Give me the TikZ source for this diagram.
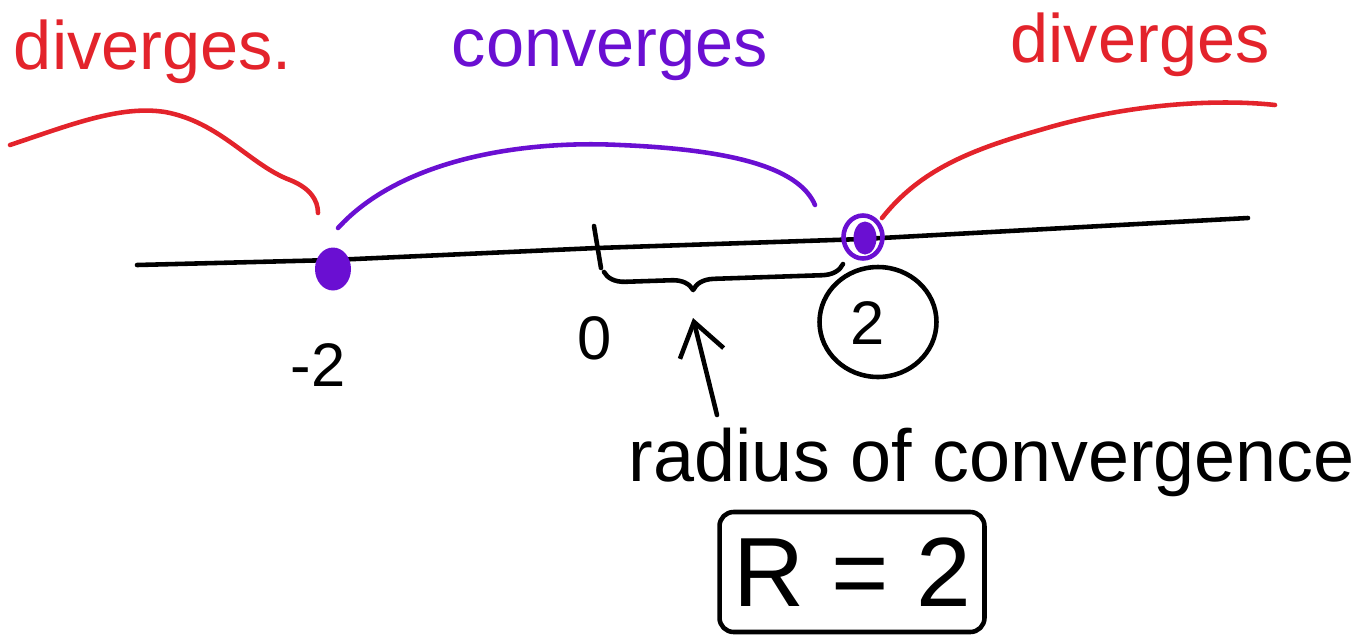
\documentclass[tikz,border=0pt]{standalone}
\usepackage{fontspec}
\setmainfont{Liberation Sans}
\usetikzlibrary{arrows.meta,positioning,decorations.pathreplacing,shapes.geometric}
\definecolor{PenRed}{HTML}{E3232B}
\definecolor{PenPurple}{HTML}{6A0FD2}

\begin{document}
\begin{tikzpicture}[x=0.02cm,y=-0.02cm,
  hand/.style={line width=2.6pt,line cap=round,line join=round},
  word/.style={inner sep=0pt,font=\fontsize{39}{46}\selectfont},
  digit/.style={inner sep=0pt,font=\fontsize{35}{40}\selectfont},
  arr/.style={hand,-{Straight Barb[length=6.5mm,width=9mm,line width=2.6pt]}}]
\useasboundingbox (0,0) rectangle (1369,643);
% number line
\coordinate (lw) at (137,265);
\coordinate (m2) at (333,260);
\coordinate (zero) at (597,248);
\coordinate (p2) at (863,239);
\coordinate (le) at (1248,218);
\draw[hand] (lw) -- (m2) -- (zero) -- (p2) -- (le);
\draw[hand] (594,226) -- (601,268);
% points
\node[ellipse,fill=PenPurple,inner sep=0pt,minimum width=0.72cm,minimum height=0.86cm] (dm2) at (333,269) {};
\node[ellipse,fill=PenPurple,inner sep=0pt,minimum width=0.46cm,minimum height=0.66cm] (dp2) at (865,238) {};
\node[ellipse,draw=PenPurple,line width=2.6pt,inner sep=0pt,minimum width=0.78cm,minimum height=0.86cm] (rp2) at (863,237) {};
% tick labels
\node[digit] (lm2) at (318,365) {-2};
\node[digit] (l0) at (595,338) {0};
\node[digit] (l2) at (868,323) {2};
\node[ellipse,draw,hand,minimum width=2.34cm,minimum height=2.2cm] (c2) at (878,322) {};
% radius
\draw[hand,decorate,decoration={brace,mirror,amplitude=0.42cm,aspect=0.37}] (604,272) -- (843,264);
\coordinate (tip) at (693,318);
\node[word,font=\fontsize{42}{50}\selectfont] (rad) at (992,462) {radius of convergence};
\coordinate (tail) at (717,415);
\draw[arr] (tail) -- (tip);
\node[draw,hand,rounded corners=8pt,minimum width=5.3cm,minimum height=2.4cm,inner sep=0pt,font=\fontsize{56}{64}\selectfont] (R) at (852,572) {R = 2};
% top labels
\node[word,text=PenRed] (divl) at (153,52) {diverges.};
\node[word,text=PenPurple] (conv) at (610,55) {converges};
\node[word,text=PenRed] (divr) at (1140,45) {diverges};
% arcs
\coordinate (rl) at (10,145);
\draw[hand,PenRed] (rl) .. controls (70,125) and (120,105) .. (165,112) .. controls (220,122) and (250,165) .. (290,180) .. controls (310,188) and (318,200) .. (318,213);
\draw[hand,PenPurple] (338,228) .. controls (400,160) and (520,140) .. (620,145) .. controls (740,150) and (800,170) .. (815,205);
\coordinate (rr) at (1275,105);
\draw[hand,PenRed] (882,218) .. controls (920,170) and (970,150) .. (1040,130) .. controls (1140,100) and (1230,100) .. (rr);
\end{tikzpicture}
\end{document}
